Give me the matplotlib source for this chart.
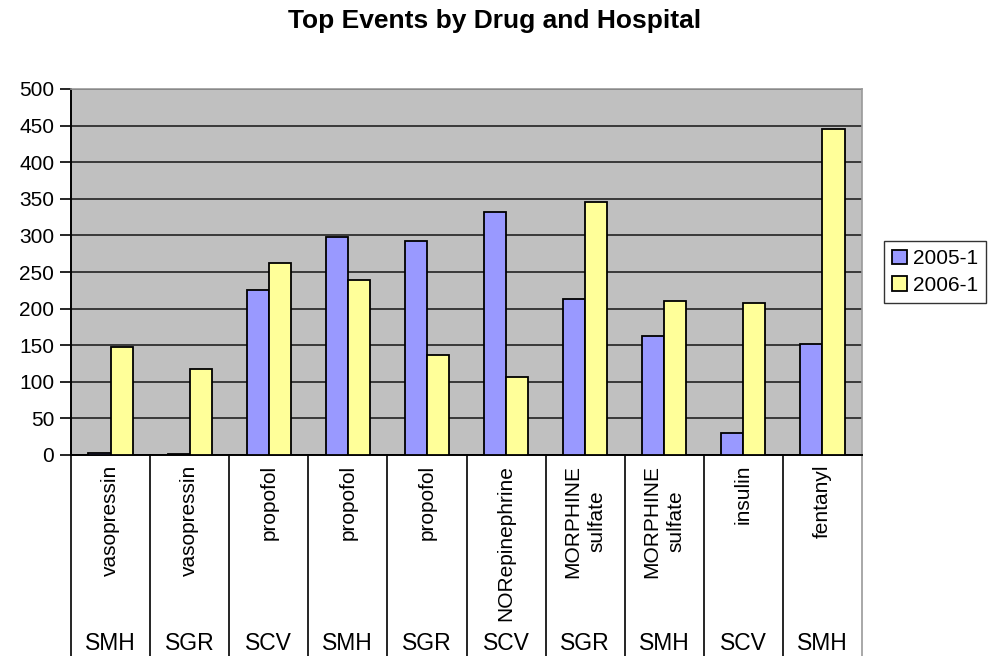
import matplotlib
matplotlib.use("Agg")
import matplotlib.pyplot as plt
import matplotlib.transforms as mtransforms
import numpy as np

drugs = ["vasopressin", "vasopressin", "propofol", "propofol", "propofol",
         "NORepinephrine", "MORPHINE\nsulfate", "MORPHINE\nsulfate", "insulin", "fentanyl"]
hospitals = ["SMH", "SGR", "SCV", "SMH", "SGR", "SCV", "SGR", "SMH", "SCV", "SMH"]
series_names = ["2005-1", "2006-1"]
values_2005 = [3, 1, 225, 298, 293, 332, 213, 163, 30, 151]
values_2006 = [148, 118, 262, 239, 137, 106, 345, 210, 207, 446]
yticks = [0, 50, 100, 150, 200, 250, 300, 350, 400, 450, 500]

plt.rcParams['font.family'] = ['Liberation Sans', 'DejaVu Sans']

W, H = 997, 656
fig = plt.figure(figsize=(W / 100, H / 100), dpi=100)
L, R, T, B = 71, 862, 89, 455
ax = fig.add_axes([L / W, 1 - B / H, (R - L) / W, (B - T) / H])
ax.set_facecolor("#C0C0C0")

x = np.arange(len(drugs))
bw = 0.28
ax.bar(x - bw / 2, values_2005, bw, color="#9999FF", edgecolor="black",
       linewidth=1.3, label=series_names[0], zorder=3)
ax.bar(x + bw / 2, values_2006, bw, color="#FFFF99", edgecolor="black",
       linewidth=1.3, label=series_names[1], zorder=3)

ax.set_ylim(0, 500)
ax.set_xlim(-0.5, len(drugs) - 0.5)
ax.set_yticks(yticks)
ax.set_yticklabels([str(v) for v in yticks], fontsize=15)
ax.yaxis.grid(True, color="#222222", linewidth=1.2, zorder=1)
ax.set_axisbelow(True)
ax.tick_params(axis='y', length=8, width=1.2, color="black", pad=4)
ax.set_xticks([])

for s in ["top", "right"]:
    ax.spines[s].set_color("#999999")
    ax.spines[s].set_linewidth(1.2)
for s in ["left", "bottom"]:
    ax.spines[s].set_color("black")
    ax.spines[s].set_linewidth(1.4)

trans = mtransforms.blended_transform_factory(ax.transData, ax.transAxes)
ext = (H - B) / (B - T)  # axes-fraction below axis to bottom of figure
for i in range(len(drugs) + 1):
    xb = i - 0.5
    col = "#999999" if i == len(drugs) else "black"
    ax.plot([xb, xb], [0, -ext], transform=trans, color=col, linewidth=1.2,
            clip_on=False)

top_lab = -(465 - B) / (B - T)
hosp_y = -(643 - B) / (B - T)
for i in range(len(drugs)):
    ax.text(i, top_lab, drugs[i], transform=trans, rotation=90, ha="center",
            va="top", fontsize=15, multialignment="center", linespacing=1.35)
    ax.text(i, hosp_y, hospitals[i], transform=trans, ha="center",
            va="center", fontsize=16.5)

fig.text(495 / W, 1 - 21 / H, "Top Events by Drug and Hospital", ha="center",
         va="center", fontsize=19, fontweight="bold")

leg = fig.legend(loc="center", bbox_to_anchor=(935 / W, 1 - 272 / H),
                 fontsize=15, frameon=True, fancybox=False, edgecolor="black",
                 handlelength=0.7, handleheight=0.7, handletextpad=0.3,
                 borderpad=0.4, labelspacing=0.35, borderaxespad=0)
leg.get_frame().set_linewidth(1.0)

fig.savefig("out.png", dpi=100)
